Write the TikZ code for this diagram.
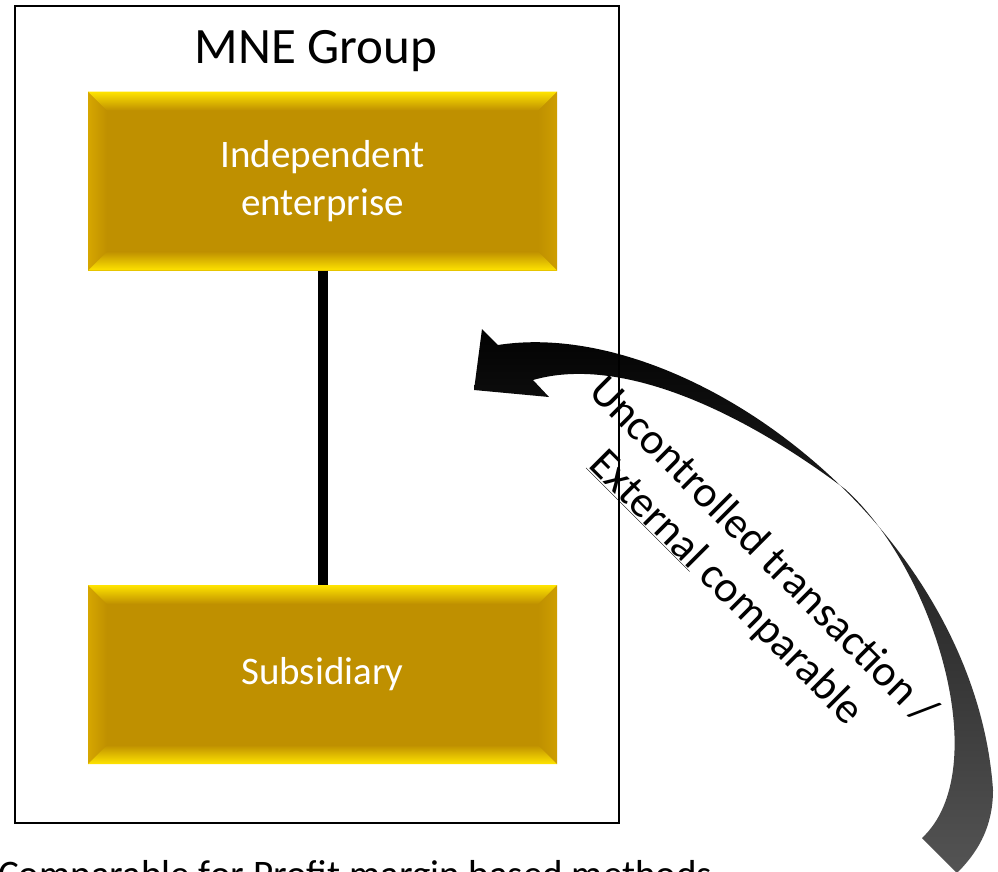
\documentclass[tikz,border=0pt]{standalone}
\usepackage{fontspec}
\setmainfont{Carlito}
\usetikzlibrary{calc}
\definecolor{goldc}{RGB}{191,144,0}
\definecolor{yelc}{RGB}{255,228,0}
\definecolor{leftc}{RGB}{214,166,0}
\definecolor{rightc}{RGB}{206,158,0}
\definecolor{tailgray}{RGB}{84,84,84}
\tikzset{
  goldbox/.style={minimum width=469pt, minimum height=179pt, inner sep=0pt,
    fill=goldc, text=white, align=center,
    font=\fontsize{39}{47.6}\selectfont,
    path picture={
      \coordinate (nw) at (path picture bounding box.north west);
      \coordinate (ne) at (path picture bounding box.north east);
      \coordinate (sw) at (path picture bounding box.south west);
      \coordinate (se) at (path picture bounding box.south east);
      \shade[left color=leftc, right color=goldc] (nw) -- ([xshift=19pt,yshift=-19pt]nw) -- ([xshift=19pt,yshift=19pt]sw) -- (sw) -- cycle;
      \shade[left color=goldc, right color=rightc] (ne) -- ([xshift=-19pt,yshift=-19pt]ne) -- ([xshift=-19pt,yshift=19pt]se) -- (se) -- cycle;
      \shade[top color=yelc, bottom color=goldc] (nw) -- (ne) -- ([xshift=-19pt,yshift=-19pt]ne) -- ([xshift=19pt,yshift=-19pt]nw) -- cycle;
      \shade[top color=goldc, bottom color=yelc] (sw) -- (se) -- ([xshift=-19pt,yshift=19pt]se) -- ([xshift=19pt,yshift=19pt]sw) -- cycle;
    }},
  frame/.style={draw=black, line width=1.6pt, minimum width=604pt, minimum height=817pt, inner sep=0pt},
  link/.style={line width=10pt, draw=black},
  bigarrow/.style={top color=black, bottom color=tailgray},
}
\begin{document}
\begin{tikzpicture}[x=1pt,y=-1pt]
\useasboundingbox (0,0) rectangle (998,871);
\fill[white] (0,0) rectangle (998,871);

% curved block arrow
\shade[bigarrow] (474,390) -- (482,329) -- (498,345)
  .. controls (690,315) and (975,530) .. (993,790)
  .. controls (993,830) and (975,855) .. (957,873)
  -- (922,838)
  .. controls (995,770) and (935,570) .. (845,489)
  .. controls (740,410) and (620,355) .. (533,380)
  -- (549,397) -- cycle;

\node[frame] (group) at (317,414.5) {};
\node[anchor=base, font=\fontsize{51}{60}\selectfont, inner sep=0pt] (title) at (316,63) {MNE Group};

\node[goldbox] (ie) at (322.5,181) {Independent\\enterprise};
\node[goldbox] (sub) at (322.5,674.5) {Subsidiary};
\draw[link] (ie.south) -- (sub.north);

\node[rotate=-45, align=center, inner sep=0pt, font=\fontsize{44}{52}\selectfont] (lbl) at (744,570)
  {Uncontrolled transaction /\\\underline{External} comparable};

\node[anchor=base west, inner sep=0pt, font=\fontsize{39}{47.6}\selectfont] (cap) at (-2,887)
  {Comparable for Profit margin based methods};
\end{tikzpicture}
\end{document}
